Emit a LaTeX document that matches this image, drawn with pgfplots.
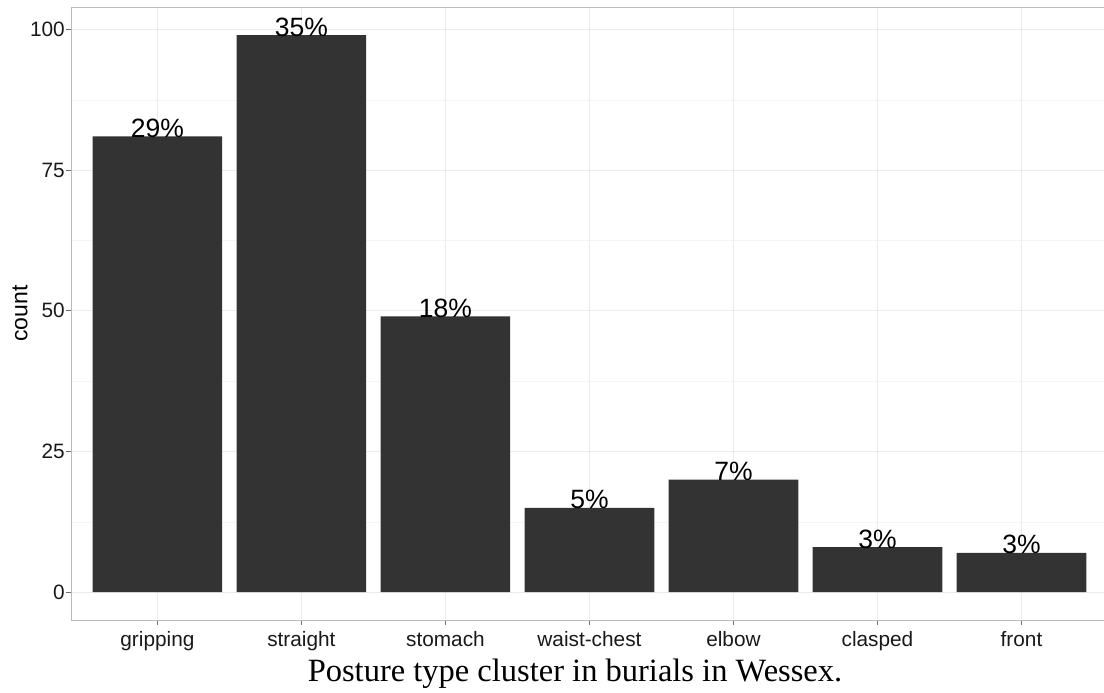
\documentclass[border=0pt]{standalone}
\usepackage{pgfplots}
\pgfplotsset{compat=1.18}
\usepackage{fontspec}
\setmainfont{Liberation Serif}
\setsansfont{Liberation Sans}
\definecolor{barcol}{HTML}{333333}
\definecolor{gridmaj}{HTML}{EBEBEB}
\definecolor{gridmin}{HTML}{F4F4F4}
\definecolor{framecol}{HTML}{BBBBBB}
\begin{document}
\begin{tikzpicture}
\begin{axis}[
  at={(0,0)}, anchor=south west,
  scale only axis,
  width=1033pt, height=612.7pt,
  ybar, bar width=0.9,
  xmin=0.4, xmax=7.573,
  ymin=-4.95, ymax=103.95,
  xtick={1,2,3,4,5,6,7},
  xticklabels={gripping,straight,stomach,waist-chest,elbow,clasped,front},
  ytick={0,25,50,75,100},
  minor ytick={12.5,37.5,62.5,87.5},
  xmajorgrids, ymajorgrids, yminorgrids,
  major grid style={gridmaj, line width=0.9pt},
  minor grid style={gridmin, line width=0.6pt},
  axis line style={framecol, line width=0.9pt},
  tick align=outside,
  major tick length=5pt, minor tick length=0pt,
  tick style={framecol!60!black, line width=0.8pt},
  xtick pos=bottom, ytick pos=left,
  /pgf/number format/assume math mode=true,
  ticklabel style={font=\sffamily\fontsize{20.8}{21}\selectfont, text=black!90},
  yticklabel style={anchor=east, inner sep=0pt, xshift=-1pt},
  xticklabel style={anchor=base, inner sep=0pt, yshift=-22pt},
  ylabel={count},
  ylabel style={font=\sffamily\fontsize{23}{24}\selectfont, at={(-51pt,0.5)}, anchor=center, rotate=0},
  point meta=explicit symbolic,
  nodes near coords={\pgfplotspointmeta},
  nodes near coords align=center,
  every node near coord/.append style={font=\sffamily\fontsize{26.5}{27}\selectfont, anchor=base, inner sep=0pt, yshift=-1pt, text=black},
  clip=false,
]
\addplot[fill=barcol, draw=none] coordinates {
  (1,81) [29\%]
  (2,99) [35\%]
  (3,49) [18\%]
  (4,15) [5\%]
  (5,20) [7\%]
  (6,8) [3\%]
  (7,7) [3\%]
};
\end{axis}
\node[anchor=base, inner sep=0pt, font=\fontsize{32.5}{34}\selectfont] at (504pt,-62pt) {Posture type cluster in burials in Wessex.};
\pgfresetboundingbox
\useasboundingbox (-71pt,-73pt) rectangle (1033pt,620pt);
\end{tikzpicture}
\end{document}
